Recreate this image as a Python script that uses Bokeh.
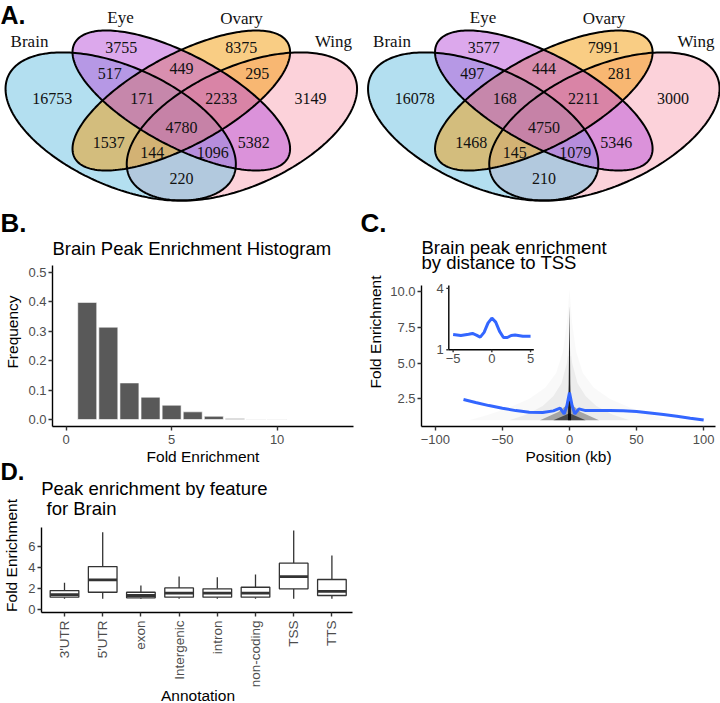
import numpy as np
from bokeh.plotting import figure
from bokeh.models import Range1d, FixedTicker, PrintfTickFormatter
from bokeh.layouts import column, row
from bokeh.embed import file_html
from bokeh.resources import INLINE
from bokeh.core.properties import value

SANS = "Liberation Sans"
SERIF = "Liberation Serif"


def px(v):
    return f"{v:.1f}px"


# ======================= DATA =======================
# Panel A: Venn diagram counts (two replicates)
venn_sets = ["Brain", "Eye", "Ovary", "Wing"]
venn_regions = ["Brain", "Eye", "Ovary", "Wing", "Brain&Eye", "Eye&Ovary", "Ovary&Wing",
                "Brain&Eye&Ovary", "Eye&Ovary&Wing", "Brain&Eye&Ovary&Wing", "Brain&Ovary",
                "Eye&Wing", "Brain&Ovary&Wing", "Brain&Eye&Wing", "Brain&Wing"]
venn_counts_left = [16753, 3755, 8375, 3149, 517, 449, 295, 171, 2233, 4780, 1537, 5382, 144, 1096, 220]
venn_counts_right = [16078, 3577, 7991, 3000, 497, 444, 281, 168, 2211, 4750, 1468, 5346, 145, 1079, 210]

# Panel B: histogram of fold enrichment
hist_bin = [1, 2, 3, 4, 5, 6, 7, 8, 9, 10]
hist_freq = [0.397, 0.313, 0.124, 0.0756, 0.0485, 0.026, 0.011, 0.0034, 0.0012, 0.0006]

# Panel C: smoothed fold enrichment by distance to TSS (kb)
tss_pos = [-79, -70, -60, -50, -40, -30, -20, -12, -7, -4, -2, 0, 2, 4, 7, 12, 20, 30, 40, 50, 60, 70, 80, 90, 100]
tss_fe = [2.45, 2.25, 2.03, 1.85, 1.68, 1.56, 1.55, 1.66, 1.85, 1.45, 2.0, 2.95, 2.0, 1.45, 1.8, 1.68, 1.68,
          1.68, 1.67, 1.62, 1.52, 1.40, 1.28, 1.15, 1.03]
inset_pos = [-5, -4, -3, -2.5, -2, -1.5, -1, -0.5, 0, 0.5, 1, 1.5, 2, 2.5, 3, 4, 5]
inset_fe = [1.75, 1.70, 1.76, 1.80, 1.72, 1.62, 1.85, 2.3, 2.55, 2.35, 1.9, 1.6, 1.6, 1.70, 1.72, 1.66, 1.66]
# point-cloud density envelopes (x in kb, fold enrichment)
cloud_outer_x = [-75, -60, -45, -30, -18, -10, -5, -2, 0, 2, 5, 10, 18, 30, 45, 60, 75]
cloud_outer_y = [1.0, 1.4, 1.9, 2.5, 3.3, 4.3, 5.8, 7.8, 10.2, 7.8, 5.8, 4.3, 3.3, 2.5, 1.9, 1.4, 1.0]
cloud_mid_x = [-45, -32, -20, -12, -6, -2, 0, 2, 6, 12, 20, 32, 45]
cloud_mid_y = [1.0, 1.4, 2.0, 2.7, 3.6, 5.0, 6.5, 5.0, 3.6, 2.7, 2.0, 1.4, 1.0]
cloud_dense_x = [-22, -15, -8, -3, 0, 3, 8, 15, 22]
cloud_dense_y = [1.0, 1.3, 1.6, 2.0, 2.4, 2.0, 1.6, 1.3, 1.0]
cloud_core_x = [-12, -6, 0, 6, 12]
cloud_core_y = [1.0, 1.25, 1.5, 1.25, 1.0]
cloud_spike_x = [-1.2, -0.6, -0.3, 0, 0.3, 0.6, 1.2]
cloud_spike_y = [1.0, 3.5, 6.5, 9.0, 6.5, 3.5, 1.0]

# Panel D: boxplot of fold enrichment by annotation
annot = ["3'UTR", "5'UTR", "exon", "Intergenic", "intron", "non-coding", "TSS", "TTS"]
box_lower = [1.05, 1.05, 1.05, 1.05, 1.05, 1.05, 1.05, 1.05]
box_q1 = [1.19, 1.66, 1.13, 1.19, 1.19, 1.19, 1.98, 1.35]
box_med = [1.44, 2.83, 1.35, 1.57, 1.57, 1.57, 3.14, 1.75]
box_q3 = [1.82, 4.08, 1.66, 2.07, 1.98, 2.13, 4.40, 2.86]
box_upper = [2.55, 7.32, 2.29, 3.14, 3.08, 3.33, 7.48, 5.12]

# ======================= STYLE / LAYOUT =======================
venn_fill = {"Brain": "#67bfe1", "Eye": "#b951d9", "Ovary": "#f39b09", "Wing": "#f9a5b5"}
fill_order = ["Wing", "Brain", "Ovary", "Eye"]
ell_geom = {"Brain": (0.35, 0.47, 0.35, 0.20, -45), "Eye": (0.50, 0.57, 0.35, 0.15, -45),
            "Ovary": (0.50, 0.57, 0.35, 0.15, 45), "Wing": (0.65, 0.47, 0.35, 0.20, 45)}
VW, VH, VX0, VY0 = 404.0, 260.0, -21.2, -11.8
venn_offsets = [0.0, 362.5]
region_pos = [(51.7, 97.7), (120.7, 46.7), (240.7, 46.7), (310, 97.7), (109.3, 72.7), (181, 68.3),
              (256.7, 72.7), (141.7, 97.7), (220.7, 97.7), (181, 126.7), (108.3, 141.7), (253.3, 141.7),
              (151.7, 152.3), (212.3, 152.3), (181, 178.3)]
set_label_pos = [(29, 41), (120, 17), (241, 18), (333, 41)]

# row boundaries (page pixels)
Y_VENN_END, Y_BC_END, Y_HEAD_END, Y_D_END, Y_END = 237, 447, 498, 620, 703


def ellipse_pts(name, off):
    cx, cy, a, b, rot = ell_geom[name]
    t = np.linspace(0, 2 * np.pi, 240)
    r = np.deg2rad(rot)
    xn = cx + a * np.cos(t) * np.cos(r) - b * np.sin(t) * np.sin(r)
    yn = cy + a * np.cos(t) * np.sin(r) + b * np.sin(t) * np.cos(r)
    return list(VX0 + VW * xn + off), list(VY0 + VH * (1 - yn))


def blank_fig(w, h, xr, yr):
    p = figure(width=w, height=h, x_range=xr, y_range=yr, output_backend="svg",
               toolbar_location=None, x_axis_type=None, y_axis_type=None,
               min_border_left=0, min_border_right=0, min_border_top=0, min_border_bottom=0)
    p.background_fill_color = "white"
    p.border_fill_color = "white"
    p.outline_line_color = None
    p.xgrid.visible = False
    p.ygrid.visible = False
    return p


def base_fig(w, h, xr, yr, borders):
    l, r, t, b = borders
    p = figure(width=w, height=h, x_range=xr, y_range=yr, output_backend="svg",
               toolbar_location=None, min_border_left=int(round(l)), min_border_right=int(round(r)),
               min_border_top=int(round(t)), min_border_bottom=int(round(b)))
    p.background_fill_color = "white"
    p.border_fill_color = "white"
    p.outline_line_color = None
    p.xgrid.visible = False
    p.ygrid.visible = False
    for ax in list(p.xaxis) + list(p.yaxis):
        ax.axis_line_color = "black"
        ax.axis_line_width = 1.4
        ax.major_tick_line_color = "#333333"
        ax.major_tick_line_width = 1.4
        ax.major_tick_out = 4
        ax.major_tick_in = 0
        ax.minor_tick_line_color = None
        ax.major_label_text_font = SANS
        ax.major_label_text_font_size = px(13)
        ax.major_label_text_color = "#4d4d4d"
        ax.major_label_standoff = 2
        ax.axis_label_text_font = SANS
        ax.axis_label_text_font_size = px(15.5)
        ax.axis_label_text_font_style = "normal"
        ax.axis_label_text_color = "black"
    return p


def texts(p, xs, ys, lines, size, bold=False, align="left", font=SANS, color="black", angle=0.0):
    p.text(x=xs, y=ys, text=lines, text_font=value(font), text_font_size=value(px(size)),
           text_font_style="bold" if bold else "normal", text_align=align, angle=angle,
           text_baseline="middle", text_color=color)


# ======================= PANEL A (+ letters B., C.) =======================
pA = blank_fig(720, Y_VENN_END, Range1d(0, 720), Range1d(Y_VENN_END, 0))
for off, counts in zip(venn_offsets, [venn_counts_left, venn_counts_right]):
    for name in fill_order:
        ex, ey = ellipse_pts(name, off)
        pA.patch(ex, ey, fill_color=venn_fill[name], fill_alpha=0.5, line_color=None)
    for name in venn_sets:
        ex, ey = ellipse_pts(name, off)
        pA.patch(ex, ey, fill_color=None, line_color="black", line_width=2.0)
    texts(pA, [p[0] + off for p in region_pos], [p[1] for p in region_pos], [str(c) for c in counts],
          16, align="center", font=SERIF, color="#111111")
    texts(pA, [p[0] + off for p in set_label_pos], [p[1] for p in set_label_pos], venn_sets,
          17, align="center", font=SERIF, color="#111111")
texts(pA, [0], [14.0], ["A."], 25, bold=True)
texts(pA, [0, 360], [222.2, 222.7], ["B.", "C."], 26, bold=True)

# ======================= PANEL B =======================


def bx(v):
    return -0.66 + (v - 51.7) / 21.1


def by(v):
    return -0.0227 + (425.7 - v) / 295.0


pB = base_fig(360, Y_BC_END - Y_VENN_END, Range1d(bx(52), bx(353)), Range1d(by(426), by(Y_VENN_END)),
              (52, 7, 0, Y_BC_END - 426))
pB.vbar(x=hist_bin, top=hist_freq, bottom=0, width=0.9, fill_color="#595959",
        line_color="white", line_width=0.6)
pB.xaxis.ticker = FixedTicker(ticks=[0, 5, 10])
pB.yaxis.ticker = FixedTicker(ticks=[0, 0.1, 0.2, 0.3, 0.4, 0.5])
pB.yaxis.formatter = PrintfTickFormatter(format="%.1f")
pB.yaxis.bounds = (by(426), by(265))
pB.xaxis.major_label_standoff = 4
pB.yaxis.axis_label = "Frequency"
pB.yaxis.axis_label_standoff = 4
texts(pB, [bx(52)], [by(248.4)], ["Brain Peak Enrichment Histogram"], 18.5)

# ======================= PANEL C =======================


def cxf(v):
    return -110.3 + (v - 421.0) / 1.3418


def cyf(v):
    return 0.59 + (425.7 - v) / 14.31


pC = base_fig(360, Y_BC_END - Y_VENN_END, Range1d(cxf(421), cxf(715)), Range1d(cyf(426), cyf(Y_VENN_END)),
              (421 - 360, 720 - 715, 0, Y_BC_END - 426))
for cxs, cys, al in [(cloud_outer_x, cloud_outer_y, 0.025), (cloud_mid_x, cloud_mid_y, 0.05),
                     (cloud_dense_x, cloud_dense_y, 0.3), (cloud_core_x, cloud_core_y, 0.55),
                     (cloud_spike_x, cloud_spike_y, 0.85)]:
    pC.patch(cxs, cys, fill_color="black", fill_alpha=al, line_color=None)
pC.line(tss_pos, tss_fe, line_color="#3366FF", line_width=3.0)
pC.xaxis.ticker = FixedTicker(ticks=[-100, -50, 0, 50, 100])
pC.xaxis.major_label_overrides = {-100: "\u2212100", -50: "\u221250", 0: "0", 50: "50", 100: "100"}
pC.yaxis.ticker = FixedTicker(ticks=[2.5, 5.0, 7.5, 10.0])
pC.yaxis.formatter = PrintfTickFormatter(format="%.1f")
pC.yaxis.bounds = (cyf(426), cyf(285))
pC.xaxis.major_label_standoff = 4
pC.yaxis.axis_label = "Fold Enrichment"
pC.yaxis.axis_label_standoff = 3
texts(pC, [cxf(421)] * 2, [cyf(247.1), cyf(261.7)], ["Brain peak enrichment", "by distance to TSS"], 18.5)

# inset (zoom on +-5 kb), drawn through a sub-coordinate mapping
IX = (-5.56, 5.42)
IY = (1.0, 4.14)
sub = pC.subplot(x_source=Range1d(*IX), y_source=Range1d(*IY),
                 x_target=Range1d(cxf(448.3), cxf(533.3)), y_target=Range1d(cyf(349.3), cyf(285.0)))
tlx = 2.5 * (IX[1] - IX[0]) / 85.0
tly = 2.5 * (IY[1] - IY[0]) / 64.3
sub.segment(x0=[IX[0], IX[0]], y0=[IY[0], IY[0]], x1=[IX[1], IX[0]], y1=[IY[0], IY[1]],
            line_color="black", line_width=1.4)
sub.segment(x0=[-5, 0, 5], y0=[IY[0]] * 3, x1=[-5, 0, 5], y1=[IY[0] - tly] * 3,
            line_color="#333333", line_width=1.4)
sub.segment(x0=[IX[0], IX[0]], y0=[1, 4], x1=[IX[0] - tlx, IX[0] - tlx], y1=[1, 4],
            line_color="#333333", line_width=1.4)
sub.text(x=[-5, 0, 5], y=[IY[0]] * 3, text=["\u22125", "0", "5"], y_offset=4,
         text_font=value(SANS), text_font_size=value(px(13)), text_color="#4d4d4d",
         text_align="center", text_baseline="top")
sub.text(x=[IX[0], IX[0]], y=[1, 4], text=["1", "4"], x_offset=-5,
         text_font=value(SANS), text_font_size=value(px(13)), text_color="#4d4d4d",
         text_align="right", text_baseline="middle")
sub.line(inset_pos, inset_fe, line_color="#3366FF", line_width=3.0)

# ======================= HEADER (x titles of B, C; letter + title of D) =======================
pH = blank_fig(720, Y_HEAD_END - Y_BC_END, Range1d(0, 720), Range1d(Y_HEAD_END, Y_BC_END))
texts(pH, [202.5, 568], [456, 456], ["Fold Enrichment", "Position (kb)"], 15.5, align="center")
texts(pH, [0], [471.4], ["D."], 24, bold=True)
texts(pH, [40.7], [487.5], ["Peak enrichment by feature"], 18.5)

# ======================= PANEL D =======================


def dxf(v):
    return 0.39 + (v - 40.7) / 38.2


def dyf(v):
    return -0.28 + (612.3 - v) / 10.6


pos_d = list(range(1, len(annot) + 1))
pD = base_fig(360, Y_D_END - Y_HEAD_END, Range1d(dxf(41), dxf(352)), Range1d(dyf(612), dyf(Y_HEAD_END)),
              (41, 8, 0, Y_D_END - 612))
pD.segment(x0=pos_d, y0=box_q3, x1=pos_d, y1=box_upper, line_color="#333333", line_width=1.3)
pD.segment(x0=pos_d, y0=box_q1, x1=pos_d, y1=box_lower, line_color="#333333", line_width=1.3)
pD.vbar(x=pos_d, bottom=box_q1, top=box_q3, width=0.75, fill_color="white",
        line_color="#333333", line_width=1.3)
pD.segment(x0=[p - 0.375 for p in pos_d], y0=box_med, x1=[p + 0.375 for p in pos_d], y1=box_med,
           line_color="#333333", line_width=2.8)
pD.xaxis.ticker = FixedTicker(ticks=pos_d)
pD.xaxis.major_label_overrides = {p: "" for p in pos_d}
pD.xaxis.major_label_standoff = 0
pD.xaxis.major_label_text_font_size = "1px"
pD.yaxis.ticker = FixedTicker(ticks=[0, 2, 4, 6])
pD.yaxis.bounds = (dyf(612), dyf(526.7))
pD.yaxis.axis_label = "Fold Enrichment"
pD.yaxis.axis_label_standoff = 5
texts(pD, [dxf(46.0)], [dyf(508.1)], [" for Brain"], 18.5)

# footer under panel D: category names (vertical, on D's x scale) and x-axis title
pF = blank_fig(360, Y_END - Y_D_END, Range1d(dxf(0), dxf(360)), Range1d(Y_END, Y_D_END))
texts(pF, pos_d, [620.0] * len(pos_d), annot, 13.5, align="right", color="#4d4d4d", angle=np.pi / 2)
texts(pF, [dxf(197.5)], [694.5], ["Annotation"], 15.5, align="center")

layout = column(row(pA), row(column(pB), column(pC)), row(pH), row(pD), row(pF))
open("out.html", "w").write(file_html(layout, INLINE))
